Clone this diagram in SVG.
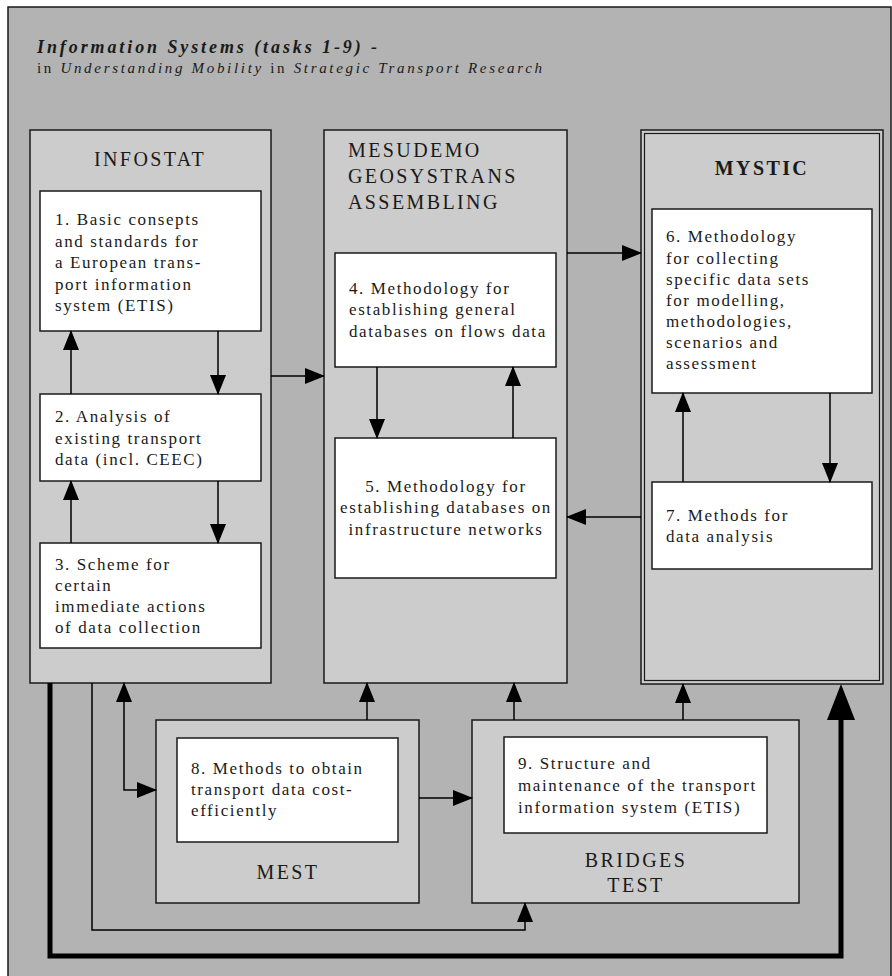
<svg xmlns="http://www.w3.org/2000/svg" width="892" height="976" viewBox="0 0 892 976">
<style>
.frame{fill:#b3b3b3;stroke:#1a1a1a;stroke-width:1.5}
.grp{fill:#cccccc;stroke:#1a1a1a;stroke-width:1.5}
.box{fill:#ffffff;stroke:#1a1a1a;stroke-width:1.5}
.t{font-family:"Liberation Serif","Times New Roman",serif;font-size:17px;letter-spacing:1.6px;fill:#1a1a1a}
.lbl{font-family:"Liberation Serif","Times New Roman",serif;font-size:20px;letter-spacing:2.4px;fill:#1a1a1a}
.b{font-weight:bold}
.c{fill:none;stroke:#000;stroke-width:1.5}
.ck{fill:none;stroke:#000;stroke-width:5;stroke-linejoin:miter}
</style>
<defs>
<marker id="ah" markerWidth="20" markerHeight="16" refX="19" refY="8" orient="auto-start-reverse" markerUnits="userSpaceOnUse"><path d="M0,0 L20,8 L0,16 z" fill="#000"/></marker>
<marker id="ahb" markerWidth="36" markerHeight="28" refX="0" refY="14" orient="auto" markerUnits="userSpaceOnUse"><path d="M0,0 L36,14 L0,28 z" fill="#000"/></marker>
</defs>
<rect class="frame" x="8" y="7" width="883" height="990"/>
<g id="title">
<text x="37" y="53" font-family="Liberation Serif, serif" font-size="18" font-weight="bold" font-style="italic" fill="#1a1a1a" textLength="340">Information Systems (tasks 1-9) -</text>
<text x="37" y="73" font-family="Liberation Serif, serif" font-size="15" fill="#1a1a1a" textLength="505">in <tspan font-style="italic">Understanding Mobility</tspan> in <tspan font-style="italic">Strategic Transport Research</tspan></text>
</g>
<g id="infostat">
<rect class="grp" x="30" y="130" width="241" height="553"/>
<text class="lbl" x="150" y="166" text-anchor="middle">INFOSTAT</text>
</g>
<g id="task1">
<rect class="box" x="40" y="191" width="221" height="140"/>
<text class="t" x="55"><tspan x="55" y="225">1. Basic consepts</tspan><tspan x="55" y="246.5">and standards for</tspan><tspan x="55" y="268">a European trans-</tspan><tspan x="55" y="289.5">port information</tspan><tspan x="55" y="311">system (ETIS)</tspan></text>
</g>
<g id="task2">
<rect class="box" x="40" y="394" width="221" height="87"/>
<text class="t"><tspan x="55" y="422">2. Analysis of</tspan><tspan x="55" y="443.5">existing transport</tspan><tspan x="55" y="465">data (incl. CEEC)</tspan></text>
</g>
<g id="task3">
<rect class="box" x="40" y="543" width="221" height="105"/>
<text class="t"><tspan x="55" y="570">3. Scheme for</tspan><tspan x="55" y="591">certain</tspan><tspan x="55" y="612">immediate actions</tspan><tspan x="55" y="633">of data collection</tspan></text>
</g>
<g id="mesudemo">
<rect class="grp" x="324" y="130" width="243" height="553"/>
<text class="lbl"><tspan x="348" y="157">MESUDEMO</tspan><tspan x="348" y="183">GEOSYSTRANS</tspan><tspan x="348" y="209">ASSEMBLING</tspan></text>
</g>
<g id="task4">
<rect class="box" x="335" y="253" width="221" height="114"/>
<text class="t"><tspan x="349" y="294">4. Methodology for</tspan><tspan x="349" y="315">establishing general</tspan><tspan x="349" y="336.5">databases on flows data</tspan></text>
</g>
<g id="task5">
<rect class="box" x="335" y="438" width="221" height="140"/>
<text class="t" text-anchor="middle"><tspan x="446" y="492">5. Methodology for</tspan><tspan x="446" y="513">establishing databases on</tspan><tspan x="446" y="534.5">infrastructure networks</tspan></text>
</g>
<g id="mystic">
<rect class="grp" x="641" y="130" width="242" height="554"/>
<rect x="644.5" y="133.5" width="235" height="547" fill="none" stroke="#1a1a1a" stroke-width="1.2"/>
<text class="lbl b" x="762" y="175" text-anchor="middle">MYSTIC</text>
</g>
<g id="task6">
<rect class="box" x="652" y="209" width="220" height="184"/>
<text class="t"><tspan x="666" y="242">6. Methodology</tspan><tspan x="666" y="263.5">for collecting</tspan><tspan x="666" y="285">specific data sets</tspan><tspan x="666" y="306">for modelling,</tspan><tspan x="666" y="327">methodologies,</tspan><tspan x="666" y="348">scenarios and</tspan><tspan x="666" y="369">assessment</tspan></text>
</g>
<g id="task7">
<rect class="box" x="652" y="482" width="220" height="87"/>
<text class="t"><tspan x="666" y="520.5">7. Methods for</tspan><tspan x="666" y="542">data analysis</tspan></text>
</g>
<g id="mest">
<rect class="grp" x="156" y="720" width="263" height="183"/>
<text class="lbl" x="288" y="879" text-anchor="middle">MEST</text>
</g>
<g id="task8">
<rect class="box" x="177" y="738" width="221" height="104"/>
<text class="t"><tspan x="191" y="774">8. Methods to obtain</tspan><tspan x="191" y="795">transport data cost-</tspan><tspan x="191" y="816">efficiently</tspan></text>
</g>
<g id="bridges">
<rect class="grp" x="472" y="720" width="327" height="183"/>
<text class="lbl" text-anchor="middle"><tspan x="636" y="867">BRIDGES</tspan><tspan x="636" y="892">TEST</tspan></text>
</g>
<g id="task9">
<rect class="box" x="504" y="737" width="263" height="96"/>
<text class="t"><tspan x="518" y="769">9. Structure and</tspan><tspan x="518" y="791">maintenance of the transport</tspan><tspan x="518" y="812.5">information system (ETIS)</tspan></text>
</g>
<g id="connectors">
<path class="c" d="M218,331 V394" marker-end="url(#ah)"/>
<path class="c" d="M71,394 V331" marker-end="url(#ah)"/>
<path class="c" d="M218,481 V543" marker-end="url(#ah)"/>
<path class="c" d="M71,543 V481" marker-end="url(#ah)"/>
<path class="c" d="M271,376 H324" marker-end="url(#ah)"/>
<path class="c" d="M377,367 V438" marker-end="url(#ah)"/>
<path class="c" d="M513,438 V367" marker-end="url(#ah)"/>
<path class="c" d="M567,253 H641" marker-end="url(#ah)"/>
<path class="c" d="M641,517 H567" marker-end="url(#ah)"/>
<path class="c" d="M683,482 V393" marker-end="url(#ah)"/>
<path class="c" d="M830,393 V482" marker-end="url(#ah)"/>
<path class="c" d="M367,720 V683" marker-end="url(#ah)"/>
<path class="c" d="M514,720 V683" marker-end="url(#ah)"/>
<path class="c" d="M683,720 V684" marker-end="url(#ah)"/>
<path class="c" d="M419,798 H472" marker-end="url(#ah)"/>
<path class="c" d="M124,683 V790 H156" marker-start="url(#ah)" marker-end="url(#ah)"/>
<path class="c" d="M92,683 V930 H525 V903" marker-end="url(#ah)"/>
<path class="ck" d="M50,683 V956 H841 V720" marker-end="url(#ahb)"/>
</g>
</svg>
